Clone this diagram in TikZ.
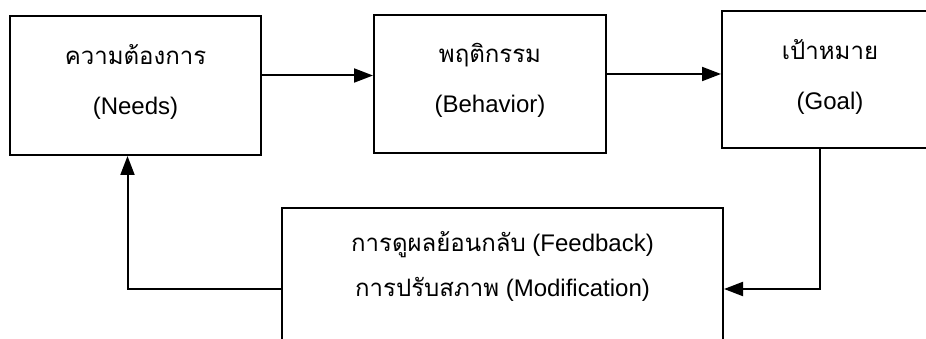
\documentclass[tikz,border=0pt]{standalone}
\usepackage{fontspec}
\setmainfont{Liberation Sans}
\newfontfamily\thaifont[Script=Thai]{Loma}
\usetikzlibrary{positioning, arrows.meta}
\tikzset{
    stagebox/.style = {draw, line width=2pt, align=center, inner sep=0pt,
                       font=\fontsize{24}{50}\selectfont},
    linetext/.style = {inner sep=0pt, font=\fontsize{24}{30}\selectfont},
    flow/.style     = {-{Triangle[length=19pt, width=14pt]}, line width=2pt},
}

\begin{document}
\begin{tikzpicture}[x=1pt, y=-1pt]
\useasboundingbox (0,0) rectangle (926,339);
\clip (0,0) rectangle (926,339);

\node[stagebox, minimum width=251pt, minimum height=139pt, text depth=12pt] (needs) at (135.5,85.5)
    {{\thaifont ความต้องการ}\\(Needs)};
\node[stagebox, minimum width=232pt, minimum height=138pt, text depth=12pt] (behav) at (490,84)
    {{\thaifont พฤติกรรม}\\(Behavior)};
\node[stagebox, minimum width=216pt, minimum height=137pt, text depth=10pt] (goal) at (830,79.5)
    {{\thaifont เป้าหมาย}\\(Goal)};

% feedback box runs off the bottom of the page
\node[stagebox, minimum width=441pt, minimum height=170pt, anchor=north] (fb) at (502.5,207) {};
\node[linetext] (fbtop) at ([yshift=-38pt]fb.north) {{\thaifont การดูผลย้อนกลับ} (Feedback)};
\node[linetext] (fbbot) at ([yshift=-82pt]fb.north) {{\thaifont การปรับสภาพ} (Modification)};

\draw[flow] ([yshift=10pt]needs.east) coordinate (n1) -- (n1 -| behav.west);
\draw[flow] ([yshift=10pt]behav.east) coordinate (b1) -- (b1 -| goal.west);
\draw[flow] ([xshift=-10pt]goal.south) |- (fbbot -| fb.east);
\draw[flow] (fbbot -| fb.west) -| ([xshift=-8pt]needs.south);

\end{tikzpicture}
\end{document}
